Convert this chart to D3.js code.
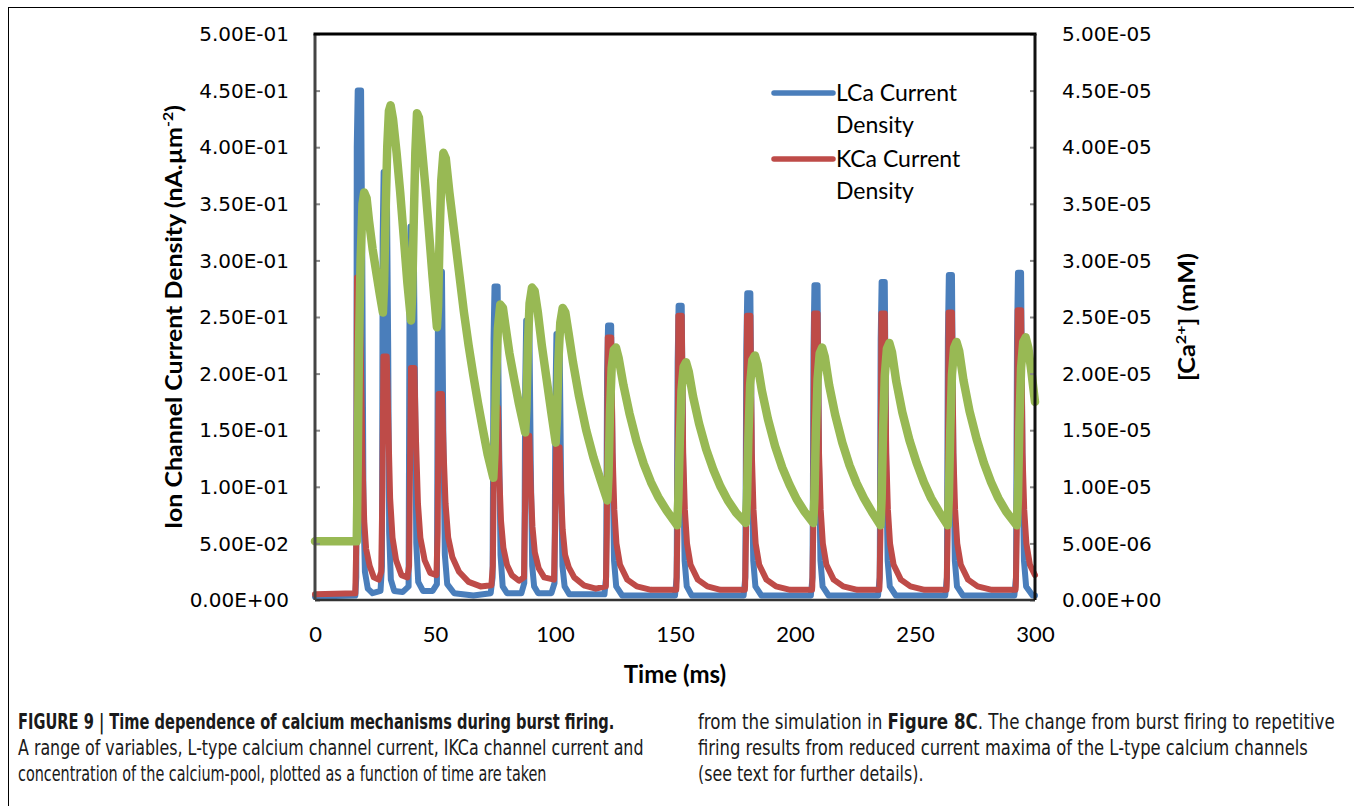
<!DOCTYPE html>
<html>
<head>
<meta charset="utf-8">
<script src="https://cdn.jsdelivr.net/npm/d3@7"></script>
<style>
  body { margin: 0; background: #fff; }
  svg { display: block; }
</style>
</head>
<body>
<svg id="chart" width="1354" height="806"></svg>
<script>
// ---- data (time in ms) ----
const xTicks = [0, 50, 100, 150, 200, 250, 300];
const leftTicks = [0, 0.05, 0.1, 0.15, 0.2, 0.25, 0.3, 0.35, 0.4, 0.45, 0.5];
const rightTicks = [0, 5e-6, 1e-5, 1.5e-5, 2e-5, 2.5e-5, 3e-5, 3.5e-5, 4e-5, 4.5e-5, 5e-5];
const legendNames = [["LCa Current", "Density"], ["KCa Current", "Density"]];

// LCa current density (nA.um-2), left axis
const lcaCurrent = [
  [0,0.003],[16.8,0.004],[17.2,0.02],[17.4,0.40],[17.8,0.45],[19.2,0.45],[19.7,0.30],[20.2,0.08],[20.8,0.025],[22,0.01],[24,0.006],
  [27.3,0.008],[27.9,0.03],[28.2,0.32],[28.6,0.378],[29.9,0.378],[30.5,0.22],[30.9,0.06],[31.6,0.018],[33,0.008],[36.5,0.007],
  [39.0,0.012],[39.4,0.27],[39.8,0.33],[41.1,0.33],[41.7,0.18],[42.2,0.05],[43,0.016],[45,0.008],[49,0.008],
  [50.8,0.014],[51.2,0.24],[51.6,0.29],[52.9,0.29],[53.5,0.14],[54.1,0.04],[55.1,0.014],[58,0.006],[66,0.004],
  [73.2,0.006],[74.0,0.02],[74.4,0.23],[74.8,0.277],[76.1,0.277],[76.7,0.14],[77.3,0.04],[78.2,0.012],[80,0.006],[86,0.006],
  [87.2,0.015],[87.6,0.19],[88.0,0.247],[89.3,0.247],[89.9,0.12],[90.5,0.03],[91.3,0.012],[93,0.006],[98.5,0.006],
  [99.8,0.015],[100.2,0.18],[100.6,0.235],[101.9,0.235],[102.5,0.11],[103.1,0.03],[104,0.012],[106,0.005],
  [120.6,0.005],[121.3,0.02],[121.7,0.20],[122.1,0.2425],[123.4,0.2425],[124.0,0.12],[124.6,0.035],[125.5,0.012],[128,0.004],
  [150,0.004],[150.7,0.02],[151.1,0.21],[151.5,0.26],[152.8,0.26],[153.4,0.12],[154.0,0.035],[154.9,0.012],[157,0.004],
  [178.6,0.004],[179.3,0.02],[179.7,0.22],[180.1,0.271],[181.4,0.271],[182.0,0.12],[182.6,0.035],[183.5,0.012],[186,0.004],
  [206.6,0.004],[207.3,0.02],[207.7,0.22],[208.1,0.278],[209.4,0.278],[210.0,0.12],[210.6,0.035],[211.5,0.012],[214,0.004],
  [234.6,0.004],[235.3,0.02],[235.7,0.23],[236.1,0.281],[237.4,0.281],[238.0,0.12],[238.6,0.035],[239.5,0.012],[242,0.004],
  [262.6,0.004],[263.3,0.02],[263.7,0.23],[264.1,0.287],[265.4,0.287],[266.0,0.12],[266.6,0.035],[267.5,0.012],[270,0.004],
  [291.4,0.004],[292.1,0.02],[292.5,0.23],[292.9,0.289],[294.2,0.289],[294.8,0.12],[295.4,0.035],[296.3,0.012],[299,0.004],[300,0.004]
];

// KCa current density (nA.um-2), left axis
const kcaCurrent = [
  [0,0.005],[16.8,0.006],[17.2,0.05],[17.5,0.285],[18.6,0.285],[19.2,0.20],[19.8,0.12],[20.5,0.07],[21.3,0.045],[22.8,0.03],[24.5,0.02],[26.5,0.018],
  [27.6,0.025],[28.1,0.1],[28.5,0.215],[29.9,0.215],[30.6,0.15],[31.3,0.09],[32.3,0.055],[33.8,0.035],[36,0.022],[38.5,0.02],
  [39.2,0.03],[39.6,0.12],[40.0,0.205],[41.4,0.205],[42.1,0.14],[42.9,0.085],[43.9,0.055],[45.7,0.035],[48,0.024],[50.6,0.022],
  [51.1,0.06],[51.5,0.182],[52.9,0.182],[53.6,0.13],[54.4,0.085],[55.5,0.055],[57.2,0.038],[60,0.025],[64,0.016],[69,0.012],[73.5,0.013],
  [74.1,0.03],[74.5,0.11],[74.9,0.17],[76.2,0.17],[76.8,0.11],[77.5,0.07],[78.5,0.046],[80,0.031],[82,0.022],[85,0.017],
  [87.1,0.02],[87.5,0.08],[87.9,0.145],[89.3,0.145],[89.9,0.1],[90.6,0.065],[91.6,0.042],[93.2,0.028],[95.5,0.02],[99.6,0.018],
  [100.1,0.07],[100.5,0.135],[101.9,0.135],[102.5,0.095],[103.2,0.062],[104.2,0.04],[105.7,0.029],[108,0.02],[112,0.013],[117,0.01],
  [121.2,0.012],[121.6,0.06],[122.0,0.232],[123.4,0.232],[124.0,0.13],[124.7,0.08],[125.6,0.05],[127.1,0.031],[130.1,0.018],[134.1,0.012],[140,0.009],[150.5,0.009],
  [150.6,0.012],[151.0,0.06],[151.4,0.251],[152.8,0.251],[153.4,0.13],[154.1,0.08],[155.0,0.05],[156.5,0.031],[159.5,0.018],[163.5,0.012],[169,0.009],[179.1,0.009],
  [179.2,0.012],[179.6,0.06],[180.0,0.251],[181.4,0.251],[182.0,0.13],[182.7,0.08],[183.6,0.05],[185.1,0.031],[188.1,0.018],[192.1,0.012],[198,0.009],[207.1,0.009],
  [207.2,0.012],[207.6,0.06],[208.0,0.253],[209.4,0.253],[210.0,0.13],[210.7,0.08],[211.6,0.05],[213.1,0.031],[216.1,0.018],[220.1,0.012],[226,0.009],[235.1,0.009],
  [235.2,0.012],[235.6,0.06],[236.0,0.253],[237.4,0.253],[238.0,0.13],[238.7,0.08],[239.6,0.05],[241.1,0.031],[244.1,0.018],[248.1,0.012],[254,0.009],[263.1,0.009],
  [263.2,0.012],[263.6,0.06],[264.0,0.254],[265.4,0.254],[266.0,0.13],[266.7,0.08],[267.6,0.05],[269.1,0.031],[272.1,0.018],[276.1,0.012],[282,0.009],[291.9,0.009],
  [292.0,0.012],[292.4,0.06],[292.8,0.256],[294.2,0.256],[294.8,0.13],[295.5,0.08],[296.4,0.05],[297.9,0.031],[300,0.022]
];

// [Ca2+] (mM), right axis
const caConc = [
  [0,5.2e-6],[17.4,5.2e-6],[17.8,12e-6],[18.3,22e-6],[19.0,30e-6],[19.8,35e-6],[20.5,36e-6],[21.5,35.5e-6],[22.5,33.5e-6],[24,31e-6],[25.5,29e-6],[27,27e-6],[28.3,25.4e-6],
  [28.8,28e-6],[29.4,34e-6],[30.1,40e-6],[30.8,43.2e-6],[31.5,43.7e-6],[32.5,42.5e-6],[34,39.5e-6],[35.5,36e-6],[37,32e-6],[38.5,28e-6],[40,24.7e-6],
  [40.5,27e-6],[41.1,33e-6],[41.8,39.5e-6],[42.5,43e-6],[43.3,42.6e-6],[44.5,40e-6],[46,36.5e-6],[47.5,32.5e-6],[49,28.5e-6],[50.8,24.1e-6],
  [51.3,26e-6],[51.9,32e-6],[52.6,37e-6],[53.5,39.5e-6],[54.5,39e-6],[56,36e-6],[58,32.5e-6],[60,29e-6],[62,25.5e-6],[64,22.5e-6],[66,19.8e-6],[68,17.3e-6],[70,15e-6],[72,12.8e-6],[74.3,10.8e-6],
  [74.8,13e-6],[75.4,19e-6],[76.2,24e-6],[77.2,26.1e-6],[78.3,25.8e-6],[79.5,24e-6],[81,21.8e-6],[83,19.5e-6],[85,17.3e-6],[87.6,14.8e-6],
  [88.1,17e-6],[88.7,22.5e-6],[89.4,26.2e-6],[90.4,27.6e-6],[91.5,27.3e-6],[92.8,25.5e-6],[94.5,22.5e-6],[96.5,19.5e-6],[98.5,16.5e-6],[100.3,13.9e-6],
  [100.8,16e-6],[101.4,21e-6],[102.2,24.5e-6],[103.2,25.8e-6],[104.3,25.4e-6],[105.7,23.5e-6],[107.5,21e-6],[110,18e-6],[113,15e-6],[116,12.6e-6],[119,10.6e-6],[121.8,8.8e-6],
  [122.3,11e-6],[122.9,16.5e-6],[123.6,20.5e-6],[124.5,22.1e-6],[125.4,22.3e-6],[126.5,21.4e-6],[128.5,19e-6],[131,16.5e-6],[134,14e-6],[137,12e-6],[140,10.4e-6],[143,9.1e-6],[146.5,7.9e-6],[150.9,6.6e-6],
  [151.4,9e-6],[152,14e-6],[152.7,18.5e-6],[153.6,20.6e-6],[154.6,21.0e-6],[155.7,20.2e-6],[157.5,18e-6],[160,15.6e-6],[163,13.3e-6],[166,11.5e-6],[169,10e-6],[172,8.8e-6],[175.5,7.7e-6],[179.5,6.8e-6],
  [180,9e-6],[180.6,14.5e-6],[181.3,19e-6],[182.2,21.2e-6],[183.3,21.6e-6],[184.4,20.8e-6],[186.2,18.5e-6],[188.7,16e-6],[191.7,13.6e-6],[194.7,11.7e-6],[197.7,10.2e-6],[200.7,8.9e-6],[204,7.8e-6],[207.6,6.8e-6],
  [208.1,9e-6],[208.7,14.8e-6],[209.4,19.5e-6],[210.3,21.8e-6],[211.3,22.3e-6],[212.4,21.5e-6],[214.2,19e-6],[216.7,16.4e-6],[219.7,13.9e-6],[222.7,11.9e-6],[225.7,10.3e-6],[228.7,9e-6],[232,7.8e-6],[235.6,6.6e-6],
  [236.1,9e-6],[236.7,15e-6],[237.4,19.8e-6],[238.3,22.2e-6],[239.3,22.7e-6],[240.4,21.9e-6],[242.2,19.3e-6],[244.7,16.6e-6],[247.7,14.1e-6],[250.7,12.1e-6],[253.7,10.4e-6],[256.7,9e-6],[260,7.8e-6],[263.6,6.6e-6],
  [264.1,9e-6],[264.7,15e-6],[265.4,19.9e-6],[266.3,22.3e-6],[267.3,22.8e-6],[268.4,22e-6],[270.2,19.4e-6],[272.7,16.7e-6],[275.7,14.2e-6],[278.7,12.1e-6],[281.7,10.4e-6],[284.7,9e-6],[288,7.8e-6],[292.4,6.6e-6],
  [292.9,9e-6],[293.5,15.5e-6],[294.2,20.5e-6],[295.1,22.8e-6],[296.1,23.2e-6],[297.2,22.3e-6],[298.6,20e-6],[300,17.5e-6]
];

const captionLeft = [
  [{t: "FIGURE 9 | Time dependence of calcium mechanisms during burst firing.", b: true}],
  [{t: "A range of variables, L-type calcium channel current, IKCa channel current and"}],
  [{t: "concentration of the calcium-pool, plotted as a function of time are taken"}]
];
const captionRight = [
  [{t: "from the simulation in "}, {t: "Figure 8C", b: true}, {t: ". The change from burst firing to repetitive"}],
  [{t: "firing results from reduced current maxima of the L-type calcium channels"}],
  [{t: "(see text for further details)."}]
];

// ---- layout ----
const svg = d3.select("#chart");
const plot = { left: 315, right: 1035, top: 34, bottom: 600 };
const colors = { lca: "#4a7ebb", kca: "#be4b48", ca: "#98b954" };
const calibri = "Lato, 'Open Sans', sans-serif";
const tickFont = "'DejaVu Sans', Verdana, sans-serif";
const capFont = "'Liberation Sans Narrow', 'DejaVu Sans Condensed', 'Liberation Sans', sans-serif";

const x = d3.scaleLinear().domain([0, 300]).range([plot.left, plot.right]);
const yLeft = d3.scaleLinear().domain([0, 0.5]).range([plot.bottom, plot.top]);
const yRight = d3.scaleLinear().domain([0, 5e-5]).range([plot.bottom, plot.top]);

function sci(v) {
  if (v === 0) return "0.00E+00";
  const e = Math.floor(Math.log10(v) + 1e-9);
  const m = v / Math.pow(10, e);
  return m.toFixed(2) + "E" + (e < 0 ? "-" : "+") + String(Math.abs(e)).padStart(2, "0");
}

// squeeze/stretch text horizontally to a given width
function place(sel, px, py, s, rot) {
  sel.attr("transform", `translate(${px},${py})${rot ? " rotate(" + rot + ")" : ""} scale(${s},1)`);
}
function fit(sel, px, py, target, rot) {
  const s = target / sel.node().getComputedTextLength();
  place(sel, px, py, s, rot);
  return s;
}

// page frame (top and left rules)
svg.append("line").attr("x1", 8).attr("x2", 1354).attr("y1", 7.5).attr("y2", 7.5)
  .attr("stroke", "#000").attr("stroke-width", 1);
svg.append("line").attr("x1", 8.5).attr("x2", 8.5).attr("y1", 7).attr("y2", 806)
  .attr("stroke", "#000").attr("stroke-width", 1);

// series
const line = yScale => d3.line().x(d => x(d[0])).y(d => yScale(d[1]));
const g = svg.append("g");
g.append("path").datum(lcaCurrent).attr("d", line(yLeft))
  .attr("fill", "none").attr("stroke", colors.lca).attr("stroke-width", 6)
  .attr("stroke-linejoin", "round").attr("stroke-linecap", "round");
g.append("path").datum(kcaCurrent).attr("d", line(yLeft))
  .attr("fill", "none").attr("stroke", colors.kca).attr("stroke-width", 6)
  .attr("stroke-linejoin", "round").attr("stroke-linecap", "round");
g.append("path").datum(caConc).attr("d", line(yRight))
  .attr("fill", "none").attr("stroke", colors.ca).attr("stroke-width", 8.5)
  .attr("stroke-linejoin", "round").attr("stroke-linecap", "round");

// axes
const leftAxis = svg.append("g").attr("transform", `translate(${plot.left},0)`)
  .call(d3.axisRight(yLeft).tickValues(leftTicks).tickSize(5).tickFormat(""));
const rightAxis = svg.append("g").attr("transform", `translate(${plot.right},0)`)
  .call(d3.axisLeft(yRight).tickValues(rightTicks).tickSize(5).tickFormat(""));
[leftAxis, rightAxis].forEach(a => {
  a.select(".domain").remove();
  a.selectAll(".tick line").attr("stroke", "#888").attr("stroke-width", 2);
});
const bottomAxis = svg.append("g").attr("transform", `translate(0,${plot.bottom})`)
  .call(d3.axisBottom(x).tickValues(xTicks).tickSize(0).tickPadding(26));
bottomAxis.select(".domain").remove();
bottomAxis.selectAll("text").attr("font-family", calibri).attr("font-size", 22).attr("fill", "#000");

// frame lines
svg.append("line").attr("x1", plot.left).attr("x2", plot.right).attr("y1", plot.bottom).attr("y2", plot.bottom)
  .attr("stroke", "#333").attr("stroke-width", 2.5);
svg.append("line").attr("x1", plot.left).attr("x2", plot.left).attr("y1", plot.top).attr("y2", plot.bottom)
  .attr("stroke", "#444").attr("stroke-width", 3);
svg.append("line").attr("x1", plot.left - 1.5).attr("x2", plot.right + 1.5).attr("y1", plot.top).attr("y2", plot.top)
  .attr("stroke", "#000").attr("stroke-width", 3);
svg.append("line").attr("x1", plot.right).attr("x2", plot.right).attr("y1", plot.top).attr("y2", plot.bottom)
  .attr("stroke", "#111").attr("stroke-width", 3);

// tick labels
svg.append("g").selectAll("text").data(leftTicks).join("text")
  .attr("x", 289).attr("y", d => yLeft(d)).attr("dy", "0.36em")
  .attr("text-anchor", "end").attr("font-family", tickFont).attr("font-size", 20)
  .text(sci);
svg.append("g").selectAll("text").data(rightTicks).join("text")
  .attr("x", 1062).attr("y", d => yRight(d)).attr("dy", "0.36em")
  .attr("text-anchor", "start").attr("font-family", tickFont).attr("font-size", 20)
  .text(sci);

// axis titles
svg.append("text").attr("x", 675).attr("y", 683).attr("text-anchor", "middle")
  .attr("font-family", calibri).attr("font-weight", "bold").attr("font-size", 24)
  .text("Time (ms)");

const midY = (plot.top + plot.bottom) / 2;
const lt = svg.append("text").attr("text-anchor", "middle")
  .attr("font-family", calibri).attr("font-weight", "bold").attr("font-size", 22);
lt.append("tspan").text("Ion Channel Current Density (nA.\u00b5m");
lt.append("tspan").attr("font-size", 14).attr("dy", -9).text("-2");
lt.append("tspan").attr("dy", 9).text(")");
fit(lt, 182, midY, 424, -90);

const rt = svg.append("text").attr("text-anchor", "middle")
  .attr("font-family", calibri).attr("font-weight", "bold").attr("font-size", 22);
rt.append("tspan").text("[Ca");
rt.append("tspan").attr("font-size", 14).attr("dy", -9).text("2+");
rt.append("tspan").attr("dy", 9).text("] (mM)");
fit(rt, 1195, midY, 128, -90);

// legend
const legendColors = [colors.lca, colors.kca];
const legendY = [93, 159];
legendNames.forEach((lines, i) => {
  svg.append("line").attr("x1", 774).attr("x2", 833).attr("y1", legendY[i]).attr("y2", legendY[i])
    .attr("stroke", legendColors[i]).attr("stroke-width", 5.5).attr("stroke-linecap", "round");
  lines.forEach((s, j) => {
    svg.append("text").attr("x", 836).attr("y", legendY[i] + 8 + j * 32)
      .attr("font-family", calibri).attr("font-size", 23).text(s);
  });
});

// caption: full lines fitted to their measured widths, short last line uses the mean squeeze
function captionLine(parts) {
  const t = svg.append("text").attr("font-family", capFont).attr("font-size", 22).attr("fill", "#1a1a1a");
  parts.forEach(p => t.append("tspan").attr("font-weight", p.b ? "bold" : "normal").text(p.t));
  return t;
}
const capRows = [
  [captionLeft[0], 18, 729, 597], [captionLeft[1], 18, 755, 626], [captionLeft[2], 18, 781, 529],
  [captionRight[0], 698, 729, 637], [captionRight[1], 698, 755, 610]
];
const squeezes = capRows.map(([parts, px, py, w]) => fit(captionLine(parts), px, py, w, 0));
const meanSqueeze = d3.mean(squeezes.slice(1));
place(captionLine(captionRight[2]), 698, 781, meanSqueeze, 0);
</script>
</body>
</html>
